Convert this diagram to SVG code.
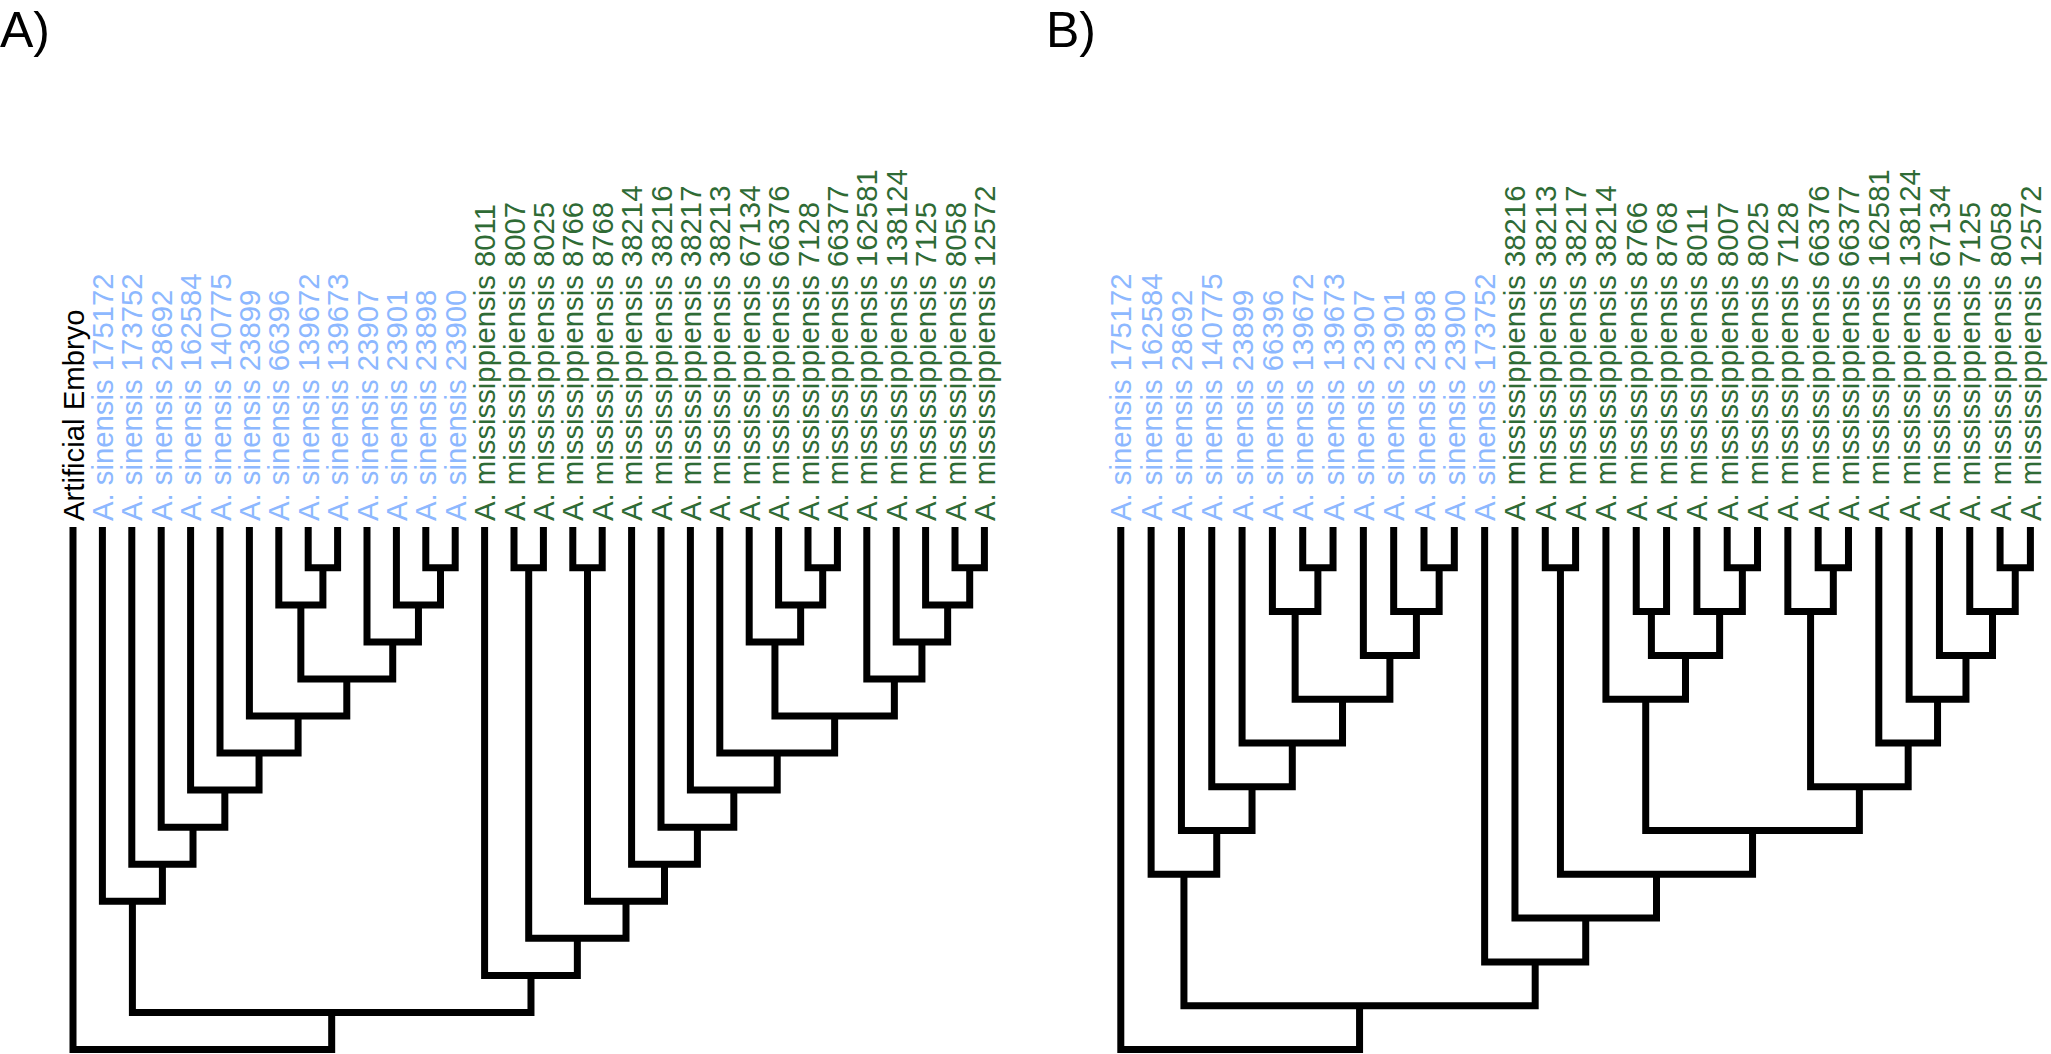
<svg xmlns="http://www.w3.org/2000/svg" width="2051" height="1054" viewBox="0 0 2051 1054">
<style>
text{font-family:"Liberation Sans",Arial,sans-serif;}
.lab{font-size:29.3px;}
.sin{fill:#8db8ff;}
.mis{fill:#2f6b35;}
.emb{fill:#000;}
.title{font-size:50px;fill:#000;}
.br{fill:none;stroke:#000;stroke-width:7;stroke-linejoin:miter;stroke-linecap:butt;}
</style>
<rect width="2051" height="1054" fill="#fff"/>
<text class="title" x="0" y="47">A)</text>
<text class="title" x="1046" y="47">B)</text>
<g id="connectors-A" class="br">
<path d="M308.2 527V567.8H337.6V527"/>
<path d="M425.8 527V567.8H455.2V527"/>
<path d="M514 527V567.8H543.4V527"/>
<path d="M572.8 527V567.8H602.2V527"/>
<path d="M808 527V567.8H837.4V527"/>
<path d="M955 527V567.8H984.4V527"/>
<path d="M278.8 527V604.9H322.9V567.8"/>
<path d="M396.4 527V604.9H440.5V567.8"/>
<path d="M778.6 527V604.9H822.7V567.8"/>
<path d="M925.6 527V604.9H969.7V567.8"/>
<path d="M367 527V641.9H418.45V604.9"/>
<path d="M749.2 527V641.9H800.65V604.9"/>
<path d="M896.2 527V641.9H947.65V604.9"/>
<path d="M300.85 604.9V679H392.73V641.9"/>
<path d="M866.8 527V679H921.93V641.9"/>
<path d="M249.4 527V716H346.79V679"/>
<path d="M774.93 641.9V716H894.36V679"/>
<path d="M220 527V753.1H298.1V716"/>
<path d="M719.8 527V753.1H834.64V716"/>
<path d="M190.6 527V790.1H259.05V753.1"/>
<path d="M690.4 527V790.1H777.22V753.1"/>
<path d="M161.2 527V827.2H224.83V790.1"/>
<path d="M661 527V827.2H733.81V790.1"/>
<path d="M131.8 527V864.2H193.01V827.2"/>
<path d="M631.6 527V864.2H697.4V827.2"/>
<path d="M102.4 527V901.3H162.4V864.2"/>
<path d="M587.5 567.8V901.3H664.5V864.2"/>
<path d="M528.7 567.8V938.3H626V901.3"/>
<path d="M484.6 527V975.4H577.35V938.3"/>
<path d="M132.4 901.3V1012.5H530.98V975.4"/>
<path d="M73 527V1049.5H331.69V1012.5"/>
</g>
<g id="connectors-B" class="br">
<path d="M1302.72 527V567.8H1333.04V527"/>
<path d="M1424 527V567.8H1454.32V527"/>
<path d="M1545.28 527V567.8H1575.6V527"/>
<path d="M1727.2 527V567.8H1757.52V527"/>
<path d="M1818.16 527V567.8H1848.48V527"/>
<path d="M2000.08 527V567.8H2030.4V527"/>
<path d="M1272.4 527V611.6H1317.88V567.8"/>
<path d="M1393.68 527V611.6H1439.16V567.8"/>
<path d="M1636.24 527V611.6H1666.56V527"/>
<path d="M1696.88 527V611.6H1742.36V567.8"/>
<path d="M1787.84 527V611.6H1833.32V567.8"/>
<path d="M1969.76 527V611.6H2015.24V567.8"/>
<path d="M1363.36 527V655.4H1416.42V611.6"/>
<path d="M1651.4 611.6V655.4H1719.62V611.6"/>
<path d="M1939.44 527V655.4H1992.5V611.6"/>
<path d="M1295.14 611.6V699.2H1389.89V655.4"/>
<path d="M1605.92 527V699.2H1685.51V655.4"/>
<path d="M1909.12 527V699.2H1965.97V655.4"/>
<path d="M1242.08 527V743H1342.52V699.2"/>
<path d="M1878.8 527V743H1937.55V699.2"/>
<path d="M1211.76 527V786.8H1292.3V743"/>
<path d="M1810.58 611.6V786.8H1908.18V743"/>
<path d="M1181.44 527V830.5H1252.03V786.8"/>
<path d="M1645.72 699.2V830.5H1859.38V786.8"/>
<path d="M1151.12 527V874.3H1216.74V830.5"/>
<path d="M1560.44 567.8V874.3H1752.55V830.5"/>
<path d="M1514.96 527V918.1H1656.5V874.3"/>
<path d="M1484.64 527V961.9H1585.73V918.1"/>
<path d="M1183.93 874.3V1005.7H1535.19V961.9"/>
<path d="M1120.8 527V1049.5H1359.56V1005.7"/>
</g>
<g id="labels-A" class="lab">
<g id="A-emb"><text class="emb" transform="translate(83.5,521) rotate(-90)">Artificial Embryo</text></g>
<g id="A-s175172"><text class="sin" transform="translate(112.9,521) rotate(-90)">A. sinensis 175172</text></g>
<g id="A-s173752"><text class="sin" transform="translate(142.3,521) rotate(-90)">A. sinensis 173752</text></g>
<g id="A-s28692"><text class="sin" transform="translate(171.7,521) rotate(-90)">A. sinensis 28692</text></g>
<g id="A-s162584"><text class="sin" transform="translate(201.1,521) rotate(-90)">A. sinensis 162584</text></g>
<g id="A-s140775"><text class="sin" transform="translate(230.5,521) rotate(-90)">A. sinensis 140775</text></g>
<g id="A-s23899"><text class="sin" transform="translate(259.9,521) rotate(-90)">A. sinensis 23899</text></g>
<g id="A-s66396"><text class="sin" transform="translate(289.3,521) rotate(-90)">A. sinensis 66396</text></g>
<g id="A-s139672"><text class="sin" transform="translate(318.7,521) rotate(-90)">A. sinensis 139672</text></g>
<g id="A-s139673"><text class="sin" transform="translate(348.1,521) rotate(-90)">A. sinensis 139673</text></g>
<g id="A-s23907"><text class="sin" transform="translate(377.5,521) rotate(-90)">A. sinensis 23907</text></g>
<g id="A-s23901"><text class="sin" transform="translate(406.9,521) rotate(-90)">A. sinensis 23901</text></g>
<g id="A-s23898"><text class="sin" transform="translate(436.3,521) rotate(-90)">A. sinensis 23898</text></g>
<g id="A-s23900"><text class="sin" transform="translate(465.7,521) rotate(-90)">A. sinensis 23900</text></g>
<g id="A-m8011"><text class="mis" transform="translate(495.1,521) rotate(-90)">A. mississippiensis 8011</text></g>
<g id="A-m8007"><text class="mis" transform="translate(524.5,521) rotate(-90)">A. mississippiensis 8007</text></g>
<g id="A-m8025"><text class="mis" transform="translate(553.9,521) rotate(-90)">A. mississippiensis 8025</text></g>
<g id="A-m8766"><text class="mis" transform="translate(583.3,521) rotate(-90)">A. mississippiensis 8766</text></g>
<g id="A-m8768"><text class="mis" transform="translate(612.7,521) rotate(-90)">A. mississippiensis 8768</text></g>
<g id="A-m38214"><text class="mis" transform="translate(642.1,521) rotate(-90)">A. mississippiensis 38214</text></g>
<g id="A-m38216"><text class="mis" transform="translate(671.5,521) rotate(-90)">A. mississippiensis 38216</text></g>
<g id="A-m38217"><text class="mis" transform="translate(700.9,521) rotate(-90)">A. mississippiensis 38217</text></g>
<g id="A-m38213"><text class="mis" transform="translate(730.3,521) rotate(-90)">A. mississippiensis 38213</text></g>
<g id="A-m67134"><text class="mis" transform="translate(759.7,521) rotate(-90)">A. mississippiensis 67134</text></g>
<g id="A-m66376"><text class="mis" transform="translate(789.1,521) rotate(-90)">A. mississippiensis 66376</text></g>
<g id="A-m7128"><text class="mis" transform="translate(818.5,521) rotate(-90)">A. mississippiensis 7128</text></g>
<g id="A-m66377"><text class="mis" transform="translate(847.9,521) rotate(-90)">A. mississippiensis 66377</text></g>
<g id="A-m162581"><text class="mis" transform="translate(877.3,521) rotate(-90)">A. mississippiensis 162581</text></g>
<g id="A-m138124"><text class="mis" transform="translate(906.7,521) rotate(-90)">A. mississippiensis 138124</text></g>
<g id="A-m7125"><text class="mis" transform="translate(936.1,521) rotate(-90)">A. mississippiensis 7125</text></g>
<g id="A-m8058"><text class="mis" transform="translate(965.5,521) rotate(-90)">A. mississippiensis 8058</text></g>
<g id="A-m12572"><text class="mis" transform="translate(994.9,521) rotate(-90)">A. mississippiensis 12572</text></g>
</g>
<g id="labels-B" class="lab">
<g id="B-s175172"><text class="sin" transform="translate(1131.3,521) rotate(-90)">A. sinensis 175172</text></g>
<g id="B-s162584"><text class="sin" transform="translate(1161.62,521) rotate(-90)">A. sinensis 162584</text></g>
<g id="B-s28692"><text class="sin" transform="translate(1191.94,521) rotate(-90)">A. sinensis 28692</text></g>
<g id="B-s140775"><text class="sin" transform="translate(1222.26,521) rotate(-90)">A. sinensis 140775</text></g>
<g id="B-s23899"><text class="sin" transform="translate(1252.58,521) rotate(-90)">A. sinensis 23899</text></g>
<g id="B-s66396"><text class="sin" transform="translate(1282.9,521) rotate(-90)">A. sinensis 66396</text></g>
<g id="B-s139672"><text class="sin" transform="translate(1313.22,521) rotate(-90)">A. sinensis 139672</text></g>
<g id="B-s139673"><text class="sin" transform="translate(1343.54,521) rotate(-90)">A. sinensis 139673</text></g>
<g id="B-s23907"><text class="sin" transform="translate(1373.86,521) rotate(-90)">A. sinensis 23907</text></g>
<g id="B-s23901"><text class="sin" transform="translate(1404.18,521) rotate(-90)">A. sinensis 23901</text></g>
<g id="B-s23898"><text class="sin" transform="translate(1434.5,521) rotate(-90)">A. sinensis 23898</text></g>
<g id="B-s23900"><text class="sin" transform="translate(1464.82,521) rotate(-90)">A. sinensis 23900</text></g>
<g id="B-s173752"><text class="sin" transform="translate(1495.14,521) rotate(-90)">A. sinensis 173752</text></g>
<g id="B-m38216"><text class="mis" transform="translate(1525.46,521) rotate(-90)">A. mississippiensis 38216</text></g>
<g id="B-m38213"><text class="mis" transform="translate(1555.78,521) rotate(-90)">A. mississippiensis 38213</text></g>
<g id="B-m38217"><text class="mis" transform="translate(1586.1,521) rotate(-90)">A. mississippiensis 38217</text></g>
<g id="B-m38214"><text class="mis" transform="translate(1616.42,521) rotate(-90)">A. mississippiensis 38214</text></g>
<g id="B-m8766"><text class="mis" transform="translate(1646.74,521) rotate(-90)">A. mississippiensis 8766</text></g>
<g id="B-m8768"><text class="mis" transform="translate(1677.06,521) rotate(-90)">A. mississippiensis 8768</text></g>
<g id="B-m8011"><text class="mis" transform="translate(1707.38,521) rotate(-90)">A. mississippiensis 8011</text></g>
<g id="B-m8007"><text class="mis" transform="translate(1737.7,521) rotate(-90)">A. mississippiensis 8007</text></g>
<g id="B-m8025"><text class="mis" transform="translate(1768.02,521) rotate(-90)">A. mississippiensis 8025</text></g>
<g id="B-m7128"><text class="mis" transform="translate(1798.34,521) rotate(-90)">A. mississippiensis 7128</text></g>
<g id="B-m66376"><text class="mis" transform="translate(1828.66,521) rotate(-90)">A. mississippiensis 66376</text></g>
<g id="B-m66377"><text class="mis" transform="translate(1858.98,521) rotate(-90)">A. mississippiensis 66377</text></g>
<g id="B-m162581"><text class="mis" transform="translate(1889.3,521) rotate(-90)">A. mississippiensis 162581</text></g>
<g id="B-m138124"><text class="mis" transform="translate(1919.62,521) rotate(-90)">A. mississippiensis 138124</text></g>
<g id="B-m67134"><text class="mis" transform="translate(1949.94,521) rotate(-90)">A. mississippiensis 67134</text></g>
<g id="B-m7125"><text class="mis" transform="translate(1980.26,521) rotate(-90)">A. mississippiensis 7125</text></g>
<g id="B-m8058"><text class="mis" transform="translate(2010.58,521) rotate(-90)">A. mississippiensis 8058</text></g>
<g id="B-m12572"><text class="mis" transform="translate(2040.9,521) rotate(-90)">A. mississippiensis 12572</text></g>
</g>
</svg>
